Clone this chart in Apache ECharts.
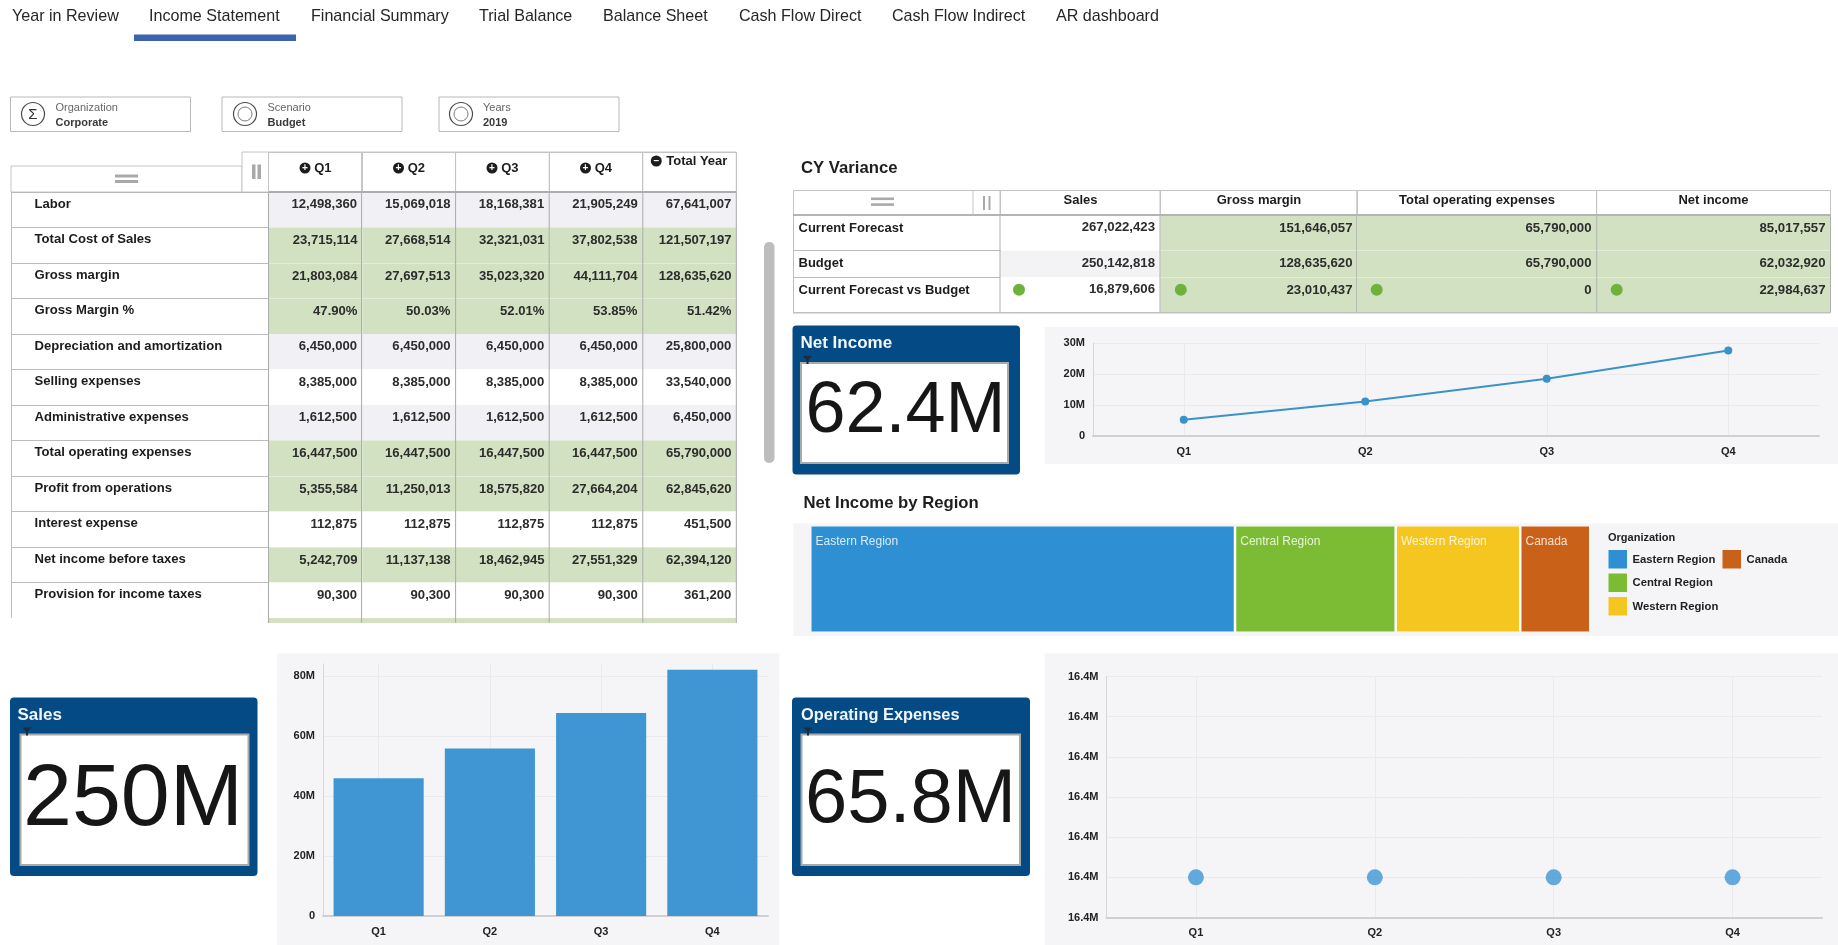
<!DOCTYPE html>
<html><head><meta charset="utf-8"><title>Income Statement</title>
<style>html,body{margin:0;padding:0;background:#fff}#c{width:1838px;height:945px}</style>
<script src="https://cdn.jsdelivr.net/npm/echarts@6/dist/echarts.min.js"></script>
</head><body><div id="c"></div>
<script>
const tabs = ['Year in Review','Income Statement','Financial Summary','Trial Balance','Balance Sheet','Cash Flow Direct','Cash Flow Indirect','AR dashboard'];
const filterTitles = ['Organization','Scenario','Years'];
const filterValues = ['Corporate','Budget','2019'];
const quarters = ['Q1','Q2','Q3','Q4'];
const statementColumns = ['Q1','Q2','Q3','Q4','Total Year'];
const statementRows = ['Labor','Total Cost of Sales','Gross margin','Gross Margin %','Depreciation and amortization','Selling expenses','Administrative expenses','Total operating expenses','Profit from operations','Interest expense','Net income before taxes','Provision for income taxes'];
const statementValues = [
 ['12,498,360','15,069,018','18,168,381','21,905,249','67,641,007'],
 ['23,715,114','27,668,514','32,321,031','37,802,538','121,507,197'],
 ['21,803,084','27,697,513','35,023,320','44,111,704','128,635,620'],
 ['47.90%','50.03%','52.01%','53.85%','51.42%'],
 ['6,450,000','6,450,000','6,450,000','6,450,000','25,800,000'],
 ['8,385,000','8,385,000','8,385,000','8,385,000','33,540,000'],
 ['1,612,500','1,612,500','1,612,500','1,612,500','6,450,000'],
 ['16,447,500','16,447,500','16,447,500','16,447,500','65,790,000'],
 ['5,355,584','11,250,013','18,575,820','27,664,204','62,845,620'],
 ['112,875','112,875','112,875','112,875','451,500'],
 ['5,242,709','11,137,138','18,462,945','27,551,329','62,394,120'],
 ['90,300','90,300','90,300','90,300','361,200']
];
const statementShade = ['gray','green','green','green','gray','white','gray','green','green','white','green','white'];
const varianceColumns = ['Sales','Gross margin','Total operating expenses','Net income'];
const varianceRows = ['Current Forecast','Budget','Current Forecast vs Budget'];
const varianceValues = [
 ['267,022,423','151,646,057','65,790,000','85,017,557'],
 ['250,142,818','128,635,620','65,790,000','62,032,920'],
 ['16,879,606','23,010,437','0','22,984,637']
];
const netIncomeByQuarter = [5242709,11137138,18462945,27551329];
const salesByQuarter = [45900000,55800000,67700000,82100000];
const opexByQuarter = [16447500,16447500,16447500,16447500];
const regions = ['Eastern Region','Central Region','Western Region','Canada'];
const regionNetIncome = [33970000,12850000,9960000,5600000];
const regionColors = ['#2e8fd3','#7cbc35','#f6c620','#c96119'];
const kpis = [['Net Income','62.4M'],['Sales','250M'],['Operating Expenses','65.8M']];

const FONT = '"Liberation Sans", Arial, sans-serif';
const GREEN='#d2e1c2', GRAY='#f1f1f5', TXT='#2c2c2c', PANEL='#f5f5f8';
const fills={green:GREEN,gray:GRAY,white:'#ffffff'};
const gfx=[];
const rect=(x,y,w,h,fill,stroke,lw,r,z)=>gfx.push({type:'rect',silent:true,z:z===undefined?5:z,shape:{x,y,width:w,height:h,r:r||0},style:{fill:fill||'transparent',stroke:stroke||null,lineWidth:lw||0}});
const text=(x,y,t,size,weight,color,align,z)=>gfx.push({type:'text',silent:true,z:z===undefined?6:z,x,y,style:{text:t,font:(weight||'normal')+' '+size+'px '+FONT,fill:color||TXT,textAlign:align||'left',textVerticalAlign:'middle'}});
const circle=(cx,cy,r,fill,stroke,lw,z)=>gfx.push({type:'circle',silent:true,z:z||6,shape:{cx,cy,r},style:{fill:fill||'transparent',stroke:stroke||null,lineWidth:lw||0}});
const vline=(x,y1,y2,c,w)=>gfx.push({type:'line',silent:true,z:20,shape:{x1:x,y1,x2:x,y2},style:{stroke:c,lineWidth:w||1}});
const hline=(x1,x2,y,c,w)=>gfx.push({type:'line',silent:true,z:20,shape:{x1,y1:y,x2,y2:y},style:{stroke:c,lineWidth:w||1}});

// tabs
[12,149,311,479,603,739,892,1056].forEach((x,i)=>text(x,16.5,tabs[i],16.1,'normal','#262626'));
rect(134,34.5,162,6.5,'#3c64ae');
// filter boxes
[[10.5,33],[222,245],[439,461]].forEach((p,i)=>{
 rect(p[0],97,180,34.5,'#fff','#b8b8b8',1);
 circle(p[1],114,11.5,'#fff','#4a4a4a',1.2);
 if(i===0) text(p[1],114.5,'Σ',15,'normal','#333','center'); else circle(p[1],114,7,'transparent','#7c7c7c',1);
 const tx=[55.5,267.5,483][i];
 text(tx,108,filterTitles[i],11,'normal','#666');
 text(tx,122.5,filterValues[i],11,'bold','#3a3a3a');
});
// section titles
text(801,168,'CY Variance',16.7,'bold','#1e1e1e');
text(803.5,503,'Net Income by Region',16.7,'bold','#1e1e1e');
// scrollbar
rect(764,242,10.5,221,'#bdbdbd',null,0,5);

// panels
rect(1044.5,327,793.5,137,PANEL,null,0,0,-10);
rect(793.5,523.5,1044.5,112.5,PANEL,null,0,0,-10);
rect(277,653.5,502.5,291.5,PANEL,null,0,0,-10);
rect(1044.5,653.5,793.5,291.5,PANEL,null,0,0,-10);

// KPI tiles
function tile(x,y,w,h,ix,iy,iw,ih,k,size,cx,cy,titleSize,titleX){
 rect(x,y,w,h,'#044a84',null,0,4);
 rect(ix,iy,iw,ih,'#fff','#a9a9a9',2);
 text(titleX,y+17.5,kpis[k][0],titleSize,'bold','#f2f6fa');
 text(cx,cy,kpis[k][1],size,'normal','#161616','center',7);
 gfx.push({type:'polygon',silent:true,z:8,shape:{points:[[ix+2,iy-7],[ix+11,iy-7],[ix+7.5,iy-3],[ix+7.5,iy+1],[ix+5.5,iy+1],[ix+5.5,iy-3]]},style:{fill:'#1a2c40'}});
}
tile(792.5,325.5,227.5,149,801,363,207,100,0,72,905.5,412.5,17,800.5);
tile(10,697.5,247.5,178.5,20.5,734.5,228,130.5,1,88,133,801,17,17.5);
tile(792,697.5,238,178.5,801.5,734.5,218.5,130.5,2,76,910.5,801,16.4,801);

// statement matrix
const statementBody=[];
const numLabel=(size)=>({show:true,position:'insideTopRight',distance:5,padding:[1,0,0,0],fontSize:size,fontWeight:'bold',color:TXT,fontFamily:FONT});
const headLabel={show:true,position:'insideTop',distance:7,fontSize:13,fontWeight:'bold',color:'#1c1c1c',fontFamily:FONT,
  rich:{p:{backgroundColor:'#1c1c1c',borderRadius:6,color:'#fff',width:11,height:11,lineHeight:11,align:'center',fontSize:10,fontWeight:'bold'},t:{fontSize:13,fontWeight:'bold',color:'#1c1c1c'}}};
statementBody.push({coord:[0,0],value:'',itemStyle:{color:'transparent',borderColor:'transparent',borderWidth:0}});
statementColumns.forEach((c,i)=>{
 const last=i===4;
 statementBody.push({coord:[i+1,0],value:'{p|'+(last?'–':'+')+'} {t|'+c+'}',
  label:Object.assign({},headLabel,{distance:last?-2:7}),
  itemStyle:{color:'#fff',borderColor:'#c4c4c8',borderWidth:1}});
});
statementRows.forEach((r,ri)=>{
 statementBody.push({coord:[0,ri+1],value:r,label:{show:true,position:'insideTopLeft',distance:5,padding:[0,0,0,18],fontSize:13.1,fontWeight:'bold',color:'#1c1c1c',fontFamily:FONT},
   itemStyle:{color:'#fff',borderColor:'#bcbcc0',borderWidth:1}});
 statementValues[ri].forEach((v,ci)=>{
  const f=fills[statementShade[ri]];
  const green=statementShade[ri]==='green';
  statementBody.push({coord:[ci+1,ri+1],value:v,label:numLabel(13.1),itemStyle:{color:f,borderColor:green?'#e3ecd9':f,borderWidth:green?1:0}});
 });
});
// stub row at the cut-off bottom
statementBody.push({coord:[0,13],value:'',itemStyle:{color:'#fff',borderWidth:0,borderColor:'#fff'}});
statementColumns.forEach((c,i)=>statementBody.push({coord:[i+1,13],value:'',itemStyle:{color:GREEN,borderWidth:0,borderColor:GREEN}}));

// variance matrix
const varianceBody=[];
varianceBody.push({coord:[0,0],value:'',itemStyle:{color:'#fff',borderColor:'#c4c4c8',borderWidth:1}});
varianceColumns.forEach((c,i)=>varianceBody.push({coord:[i+1,0],value:c,label:{show:true,position:'insideTop',distance:1,fontSize:13,fontWeight:'bold',color:'#1c1c1c',fontFamily:FONT},itemStyle:{color:'#fff',borderColor:'#c4c4c8',borderWidth:1}}));
varianceRows.forEach((r,ri)=>{
 varianceBody.push({coord:[0,ri+1],value:r,label:{show:true,position:'insideTopLeft',distance:5,padding:[1,0,0,0],fontSize:13,fontWeight:'bold',color:'#1c1c1c',fontFamily:FONT},itemStyle:{color:'#fff',borderColor:'#bcbcc0',borderWidth:1}});
 varianceValues[ri].forEach((v,ci)=>{
  const f=ci===0?(ri===1?'#f3f3f5':'#fff'):GREEN;
  varianceBody.push({coord:[ci+1,ri+1],value:v,label:numLabel(13.2),itemStyle:{color:f,borderColor:ci===0?f:'#e3ecd9',borderWidth:ci===0?0:1}});
 });
});

// vertical column rules and header chrome drawn over the tables
[268.5,361.6,455.6,549.2,642.8,736.3].forEach(x=>{vline(x,192,623,'#a8aba8');vline(x,152,192,'#c4c4c8');});
hline(268.5,736.3,152,'#c4c4c8');
hline(11,736,192,'#adadad',2);
rect(11,166,231,26,'#fff','#c4c4c8',1,0,21);
rect(242,152,26.5,40,'#fff','#c4c4c8',1,0,21);
rect(115,174.5,23,3,'#a9a9a9',null,0,0,22); rect(115,180,23,3,'#a9a9a9',null,0,0,22);
rect(252,164.5,3.5,14.5,'#a9a9a9',null,0,0,22); rect(257.5,164.5,3.5,14.5,'#a9a9a9',null,0,0,22);
[1000,1160,1356.8,1596.7,1830.5].forEach(x=>{vline(x,215,312.7,'#adb0ad');vline(x,190,215,'#c4c4c8');});
hline(793,1830.5,215,'#b4b4b4',2);
hline(793,1830.5,312.7,'#c0c0c0',1.5);
vline(973,190,215,'#c4c4c8');
rect(871,197.5,23,2.6,'#a9a9a9',null,0,0,22); rect(871,203.3,23,2.6,'#a9a9a9',null,0,0,22);
rect(983,196,2,14,'#a9a9a9',null,0,0,22); rect(988.5,196,2,14,'#a9a9a9',null,0,0,22);
[1019,1180.8,1376.7,1616.7].forEach(x=>circle(x,289.7,6,'#6fb23b',null,0,25));

// treemap legend
text(1608,538,'Organization',11,'bold','#222');
[[1608.5,550],[1608.5,573.5],[1608.5,597],[1722.5,550]].forEach((p,i)=>{
 rect(p[0],p[1],18.5,18.5,regionColors[i]);
 text(p[0]+24,p[1]+9.5,regions[i],11.3,'bold','#222');
});

const axisCommon=(grid)=>({gridIndex:grid,type:'category',data:quarters,
 axisLine:{show:true,lineStyle:{color:'#cfcfd4',width:2}},axisTick:{show:false},
 axisLabel:{fontSize:11,fontWeight:'bold',color:'#222',margin:10,fontFamily:FONT},
 splitLine:{show:true,alignWithLabel:true,lineStyle:{color:'#e9e9ee',width:1}}});
const yCommon=(grid,extra)=>Object.assign({gridIndex:grid,type:'value',
 axisLine:{show:true,lineStyle:{color:'#d6d6da',width:1}},axisTick:{show:false},
 axisLabel:{fontSize:11,fontWeight:'bold',color:'#222',margin:8,fontFamily:FONT,formatter:v=>v===0?'0':(v/1e6)+'M'},
 splitLine:{show:true,lineStyle:{color:'#e9e9ee',width:1}}},extra);

const option={
 animation:false,backgroundColor:'#fff',
 textStyle:{fontFamily:FONT},
 graphic:{elements:gfx},
 matrix:[
  {left:11,top:152,width:725.3,height:471,
   x:{show:false,data:[{value:'r',size:257.5},...statementColumns.map(c=>({value:c,size:93.56}))]},
   y:{show:false,data:[{value:'h',size:40},...statementRows.map(r=>({value:r,size:35.5})),{value:'s',size:5}]},
   body:{data:statementBody,itemStyle:{borderWidth:0},label:{fontFamily:FONT}},backgroundStyle:{color:'transparent',borderWidth:0}},
  {left:793,top:190,width:1037.5,height:122.7,
   x:{show:false,data:[{value:'r',size:207},{value:varianceColumns[0],size:160},{value:varianceColumns[1],size:196.8},{value:varianceColumns[2],size:239.9},{value:varianceColumns[3],size:233.8}]},
   y:{show:false,data:[{value:'h',size:25},{value:varianceRows[0],size:35.7},{value:varianceRows[1],size:26.6},{value:varianceRows[2],size:35.4}]},
   body:{data:varianceBody,itemStyle:{borderWidth:0},label:{fontFamily:FONT}},backgroundStyle:{color:'transparent',borderWidth:0}}
 ],
 grid:[
  {left:1093,top:343,width:726,height:93},
  {left:323,top:664,width:445,height:252},
  {left:1106.5,top:676.5,width:715.5,height:241}
 ],
 xAxis:[axisCommon(0),axisCommon(1),axisCommon(2)],
 yAxis:[
  yCommon(0,{min:0,max:30000000,interval:10000000}),
  yCommon(1,{min:0,max:84000000,interval:20000000,axisLabel:{fontSize:11,fontWeight:'bold',color:'#222',margin:8,showMaxLabel:false,fontFamily:FONT,formatter:v=>v===0?'0':(v/1e6)+'M'},splitLine:{show:true,showMaxLine:false,lineStyle:{color:'#e9e9ee'}}}),
  yCommon(2,{min:16447480,max:16447600,interval:20,axisLabel:{fontSize:11,fontWeight:'bold',color:'#222',margin:8,fontFamily:FONT,formatter:v=>(v/1e6).toFixed(1)+'M'}})
 ],
 series:[
  {type:'line',xAxisIndex:0,yAxisIndex:0,data:netIncomeByQuarter,symbol:'circle',symbolSize:8,lineStyle:{color:'#3a93c8',width:2},itemStyle:{color:'#3a93c8'}},
  {type:'bar',xAxisIndex:1,yAxisIndex:1,data:salesByQuarter,barWidth:'81%',itemStyle:{color:'#3f96d3'}},
  {type:'scatter',xAxisIndex:2,yAxisIndex:2,data:opexByQuarter,symbolSize:16,itemStyle:{color:'#3f96d3'}},
  {type:'treemap',left:811.5,top:526.5,width:777.5,height:105,roam:false,nodeClick:false,breadcrumb:{show:false},
   squareRatio:1.6,
   itemStyle:{borderWidth:0,gapWidth:2.5},
   levels:[{itemStyle:{gapWidth:2.5,borderWidth:0}}],
   label:{show:true,position:'insideTopLeft',distance:4,padding:[5,0,0,0],fontSize:12,color:'rgba(255,255,255,0.82)',fontFamily:FONT},
   data:regions.map((n,i)=>({name:n,value:regionNetIncome[i],itemStyle:{color:regionColors[i]}}))}
 ]
};
const chart=echarts.init(document.getElementById('c'),null,{renderer:'canvas'});
chart.setOption(option);
</script></body></html>
